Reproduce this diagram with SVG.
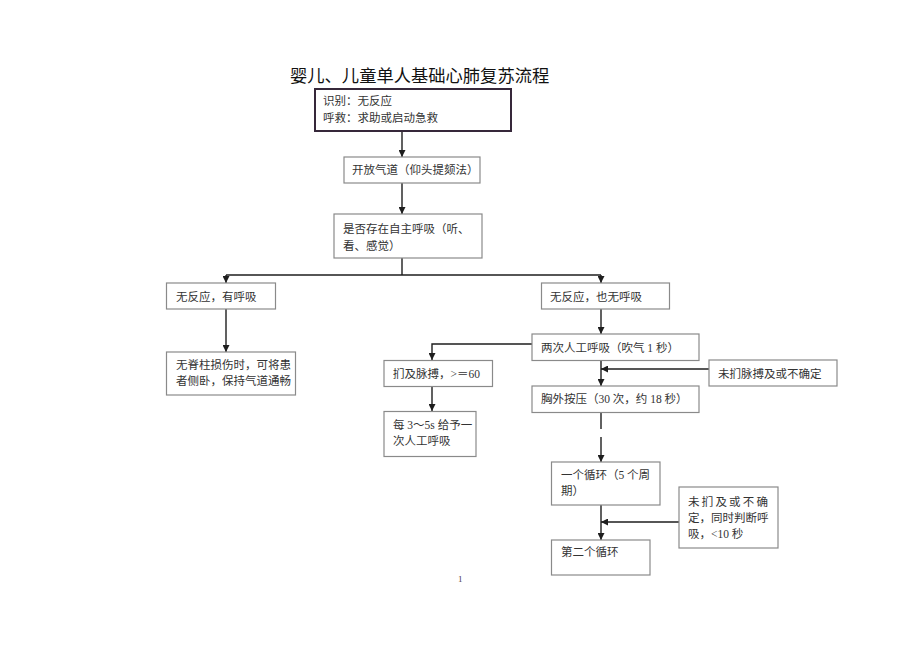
<svg xmlns="http://www.w3.org/2000/svg" width="920" height="651" viewBox="0 0 920 651">
<defs>
<marker id="ah" viewBox="0 0 10 10" refX="10" refY="5" markerWidth="7" markerHeight="7" markerUnits="userSpaceOnUse" orient="auto">
<path d="M0,0 L10,5 L0,10 z" fill="#1e1e1e"/>
</marker>
</defs>
<style>
.bx{fill:#fff;stroke:#8a8a8a;stroke-width:1.2}
.bx1{fill:#fff;stroke:#36283a;stroke-width:2}
.t{font-family:"Liberation Serif","Noto Sans CJK SC",serif;font-size:11.5px;fill:#333}
.ttl{font-family:"Liberation Serif","Noto Sans CJK SC",serif;font-size:17.3px;fill:#111}
.c{fill:none;stroke:#1e1e1e;stroke-width:1.4}
.ca{fill:none;stroke:#1e1e1e;stroke-width:1.4;marker-end:url(#ah)}
</style>
<rect width="920" height="651" fill="#fff"/>
<text class="ttl" x="290" y="82">婴儿、儿童单人基础心肺复苏流程</text>
<g id="connectors">
<line class="ca" x1="402" y1="131" x2="402" y2="157"/>
<line class="ca" x1="402" y1="183" x2="402" y2="214"/>
<polyline class="c" points="402,258 402,275"/>
<line class="c" x1="226" y1="275" x2="601" y2="275"/>
<line class="ca" x1="226" y1="275" x2="226" y2="283"/>
<line class="ca" x1="601" y1="275" x2="601" y2="283"/>
<line class="ca" x1="226" y1="309" x2="226" y2="352"/>
<line class="ca" x1="601" y1="309" x2="601" y2="334"/>
<polyline class="ca" points="532,344 432,344 432,360"/>
<line class="ca" x1="432" y1="387" x2="432" y2="411"/>
<line class="ca" x1="601" y1="361" x2="601" y2="386"/>
<line class="ca" x1="709" y1="369" x2="601" y2="369"/>
<line class="c" x1="601" y1="413" x2="601" y2="429"/>
<line class="ca" x1="601" y1="437" x2="601" y2="462"/>
<line class="ca" x1="601" y1="505" x2="601" y2="540"/>
<line class="ca" x1="679" y1="522" x2="601" y2="522"/>
</g>
<g id="n1">
<rect class="bx1" x="315" y="89" width="196" height="42"/>
<text class="t" x="323" y="105">识别：无反应</text>
<text class="t" x="323" y="122">呼救：求助或启动急救</text>
</g>
<g id="n2">
<rect class="bx" x="344" y="157" width="136" height="26"/>
<text class="t" x="352" y="174">开放气道（仰头提颏法）</text>
</g>
<g id="n3">
<rect class="bx" x="334" y="214" width="148" height="44"/>
<text class="t" x="343" y="233">是否存在自主呼吸（听、</text>
<text class="t" x="343" y="250">看、感觉）</text>
</g>
<g id="n4">
<rect class="bx" x="166.5" y="283" width="109" height="26"/>
<text class="t" x="176" y="301">无反应，有呼吸</text>
</g>
<g id="n5">
<rect class="bx" x="166.5" y="352" width="129" height="43"/>
<text class="t" x="176" y="369">无脊柱损伤时，可将患</text>
<text class="t" x="176" y="385">者侧卧，保持气道通畅</text>
</g>
<g id="n6">
<rect class="bx" x="541.5" y="283" width="128" height="26"/>
<text class="t" x="550" y="301">无反应，也无呼吸</text>
</g>
<g id="n7">
<rect class="bx" x="532" y="334" width="167" height="26.5"/>
<text class="t" x="541" y="352">两次人工呼吸（吹气 1 秒）</text>
</g>
<g id="n8">
<rect class="bx" x="384" y="360.5" width="108.5" height="26"/>
<text class="t" x="393" y="378">扪及脉搏，&gt;＝60</text>
</g>
<g id="n9">
<rect class="bx" x="384" y="411.5" width="92" height="45"/>
<text class="t" x="393" y="429">每 3～5s 给予一</text>
<text class="t" x="393" y="445">次人工呼吸</text>
</g>
<g id="n10">
<rect class="bx" x="709" y="360" width="128" height="26"/>
<text class="t" x="718" y="378">未扪脉搏及或不确定</text>
</g>
<g id="n11">
<rect class="bx" x="532" y="386" width="167" height="26.5"/>
<text class="t" x="541" y="403">胸外按压（30 次，约 18 秒）</text>
</g>
<g id="n12">
<rect class="bx" x="551.5" y="462" width="108.5" height="43"/>
<text class="t" x="561" y="479">一个循环（5 个周</text>
<text class="t" x="561" y="495">期）</text>
</g>
<g id="n13">
<rect class="bx" x="679" y="487" width="99" height="61"/>
<text class="t" x="688" y="506" letter-spacing="2.2">未扪及或不确</text>
<text class="t" x="688" y="522">定，同时判断呼</text>
<text class="t" x="688" y="538">吸，&lt;10 秒</text>
</g>
<g id="n14">
<rect class="bx" x="551.5" y="540" width="98.5" height="35"/>
<text class="t" x="561" y="556">第二个循环</text>
</g>
<text x="458" y="582" font-family="Liberation Serif, serif" font-size="9" fill="#4a3a4a">1</text>
</svg>
